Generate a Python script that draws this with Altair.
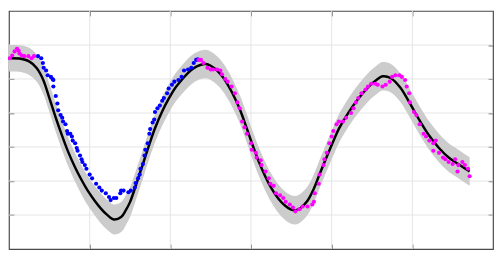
import altair as alt
import pandas as pd

# Posterior mean (black curve)
mean_x = [0.00, 0.13, 0.25, 0.34, 0.42, 0.49, 0.58, 0.66, 0.73, 0.82,
          0.90, 0.97, 1.06, 1.14, 1.21, 1.30, 1.39, 1.45, 1.50, 1.57,
          1.66, 1.74, 1.81, 1.90, 1.98, 2.05, 2.14, 2.22, 2.29, 2.38,
          2.44, 2.50, 2.58, 2.65, 2.72, 2.77, 2.86, 2.94, 3.01, 3.10,
          3.18, 3.25, 3.34, 3.42, 3.49, 3.55, 3.61, 3.70, 3.78, 3.85,
          3.94, 4.02, 4.09, 4.21, 4.33, 4.45, 4.57, 4.63, 4.73, 4.85,
          4.97, 5.09, 5.21, 5.33, 5.45, 5.57, 5.71]
mean_y = [2.11, 2.10, 2.02, 1.83, 1.50, 1.02, 0.36, -0.18, -0.62, -1.10,
          -1.47, -1.76, -2.07, -2.31, -2.48, -2.63, -2.56, -2.35, -2.12, -1.65,
          -1.00, -0.42, 0.05, 0.55, 0.92, 1.20, 1.47, 1.68, 1.82, 1.92,
          1.94, 1.89, 1.75, 1.56, 1.30, 1.08, 0.62, 0.10, -0.38, -0.95,
          -1.38, -1.70, -2.02, -2.22, -2.33, -2.36, -2.30, -2.08, -1.72, -1.30,
          -0.78, -0.33, 0.04, 0.52, 0.92, 1.25, 1.50, 1.58, 1.53, 1.25,
          0.78, 0.28, -0.17, -0.53, -0.81, -1.00, -1.22]
# Half-width of the confidence band (grey)
band_half = [0.39, 0.39, 0.40, 0.40, 0.41, 0.41, 0.42, 0.42, 0.42, 0.42,
             0.43, 0.43, 0.43, 0.44, 0.44, 0.44, 0.44, 0.44, 0.44, 0.43,
             0.43, 0.42, 0.42, 0.42, 0.42, 0.42, 0.42, 0.42, 0.42, 0.42,
             0.42, 0.42, 0.42, 0.42, 0.42, 0.42, 0.42, 0.42, 0.42, 0.42,
             0.42, 0.42, 0.42, 0.42, 0.42, 0.42, 0.42, 0.42, 0.42, 0.42,
             0.42, 0.42, 0.42, 0.42, 0.42, 0.42, 0.42, 0.42, 0.42, 0.42,
             0.42, 0.42, 0.42, 0.42, 0.42, 0.42, 0.42]

# Blue observations
blue_x = [0.36, 0.40, 0.42, 0.43, 0.46, 0.48, 0.52, 0.54, 0.55, 0.55,
          0.58, 0.60, 0.61, 0.64, 0.66, 0.67, 0.70, 0.72, 0.73, 0.76,
          0.78, 0.79, 0.82, 0.84, 0.85, 0.88, 0.90, 0.91, 0.94, 0.96,
          1.00, 1.03, 1.08, 1.12, 1.15, 1.20, 1.24, 1.26, 1.30, 1.33,
          1.38, 1.39, 1.42, 1.48, 1.51, 1.56, 1.57, 1.60, 1.62, 1.63,
          1.66, 1.68, 1.69, 1.72, 1.74, 1.75, 1.78, 1.80, 1.81, 1.84,
          1.87, 1.90, 1.92, 1.96, 1.98, 2.02, 2.05, 2.10, 2.14, 2.17,
          2.22, 2.26, 2.29, 2.32, 2.34]
blue_y = [2.17, 2.11, 1.97, 1.83, 1.75, 1.61, 1.56, 1.50, 1.47, 1.28,
          1.00, 0.78, 0.58, 0.44, 0.36, 0.25, 0.17, -0.03, -0.11, -0.11,
          -0.19, -0.31, -0.39, -0.53, -0.61, -0.75, -0.86, -0.94, -1.03, -1.14,
          -1.31, -1.42, -1.58, -1.69, -1.78, -1.86, -1.97, -2.06, -2.00, -2.00,
          -1.86, -1.78, -1.78, -1.83, -1.78, -1.69, -1.56, -1.42, -1.31, -1.14,
          -1.00, -0.75, -0.58, -0.39, -0.11, 0.03, 0.22, 0.31, 0.53, 0.64,
          0.72, 0.86, 0.94, 1.08, 1.22, 1.33, 1.42, 1.47, 1.56, 1.75,
          1.78, 1.83, 1.97, 2.06, 2.08]

# Magenta observations
mag_x = [0.01, 0.04, 0.07, 0.10, 0.12, 0.13, 0.16, 0.19, 0.24, 0.28, 0.31,
         2.35, 2.38, 2.41, 2.46, 2.50, 2.53, 2.58, 2.62, 2.64, 2.68,
         2.71, 2.76, 2.80, 2.83, 2.86, 2.89, 2.92, 2.95, 3.00, 3.01,
         3.06, 3.07, 3.12, 3.13, 3.18, 3.22, 3.24, 3.28, 3.31, 3.36,
         3.40, 3.43, 3.48, 3.52, 3.55, 3.60, 3.64, 3.70, 3.76, 3.78,
         3.79, 3.84, 3.85, 3.90, 3.91, 3.94, 3.97, 4.00, 4.02, 4.06,
         4.09, 4.14, 4.18, 4.24, 4.27, 4.30, 4.33, 4.37, 4.42, 4.45,
         4.49, 4.54, 4.57, 4.63, 4.67, 4.72, 4.75, 4.79, 4.84, 4.87,
         4.91, 4.93, 4.96, 4.97, 5.02, 5.05, 5.09, 5.14, 5.17, 5.21,
         5.26, 5.29, 5.26, 5.33, 5.38, 5.41, 5.45, 5.50, 5.53, 5.57,
         5.56, 5.62, 5.65, 5.69, 5.71]
mag_y = [2.11, 2.19, 2.31, 2.39, 2.33, 2.25, 2.19, 2.17, 2.17, 2.11, 2.17,
         2.06, 2.06, 1.97, 1.83, 1.78, 1.78, 1.78, 1.75, 1.64, 1.50,
         1.42, 1.28, 1.08, 0.81, 0.64, 0.25, 0.08, -0.11, -0.39, -0.58,
         -0.67, -0.81, -0.89, -1.03, -1.22, -1.42, -1.58, -1.64, -1.86, -1.92,
         -2.00, -2.11, -2.19, -2.28, -2.39, -2.33, -2.25, -2.25, -2.19, -2.11,
         -1.86, -1.58, -1.31, -1.03, -0.86, -0.67, -0.39, -0.19, -0.03, 0.17,
         0.25, 0.25, 0.36, 0.50, 0.64, 0.81, 0.94, 1.08, 1.19, 1.28,
         1.36, 1.36, 1.33, 1.28, 1.33, 1.42, 1.56, 1.61, 1.61, 1.56,
         1.47, 1.28, 1.08, 0.81, 0.53, 0.44, 0.17, -0.11, -0.19, -0.31,
         -0.39, -0.31, -0.61, -0.67, -0.81, -0.86, -0.94, -1.00, -0.86, -1.03,
         -1.22, -0.94, -1.03, -1.14, -1.36]

x_ticks = [1, 2, 3, 4, 5]
y_ticks = [-2.5, -1.5, -0.5, 0.5, 1.5, 2.5]
x_domain = [0, 6]
y_domain = [-3.5, 3.5]

fit = pd.DataFrame({
    "x": mean_x,
    "mean": mean_y,
    "lo": [m - h for m, h in zip(mean_y, band_half)],
    "hi": [m + h for m, h in zip(mean_y, band_half)],
})
pts = pd.DataFrame({
    "x": blue_x + mag_x,
    "y": blue_y + mag_y,
    "set": ["blue"] * len(blue_x) + ["magenta"] * len(mag_x),
})

xs = alt.Scale(domain=x_domain, nice=False, zero=False)
ys = alt.Scale(domain=y_domain, nice=False, zero=False)

FRAME = "#4a4a4a"
GRID = "#e4e4e4"
tick_axis = dict(labels=False, domain=False, grid=False, ticks=True,
                 tickSize=5, tickColor=FRAME, tickWidth=1, offset=-5, title=None)

vgrid = alt.Chart(pd.DataFrame({"x": x_ticks})).mark_rule(
    color=GRID, strokeWidth=1
).encode(
    x=alt.X("x:Q", scale=xs, axis=alt.Axis(orient="bottom", values=x_ticks, **tick_axis))
)
hgrid = alt.Chart(pd.DataFrame({"y": y_ticks})).mark_rule(
    color=GRID, strokeWidth=1
).encode(
    y=alt.Y("y:Q", scale=ys, axis=alt.Axis(orient="left", values=y_ticks, **tick_axis))
)
band = alt.Chart(fit).mark_area(color="#cccccc", opacity=1, interpolate="catmull-rom").encode(
    x=alt.X("x:Q", scale=xs, axis=alt.Axis(orient="top", values=x_ticks, **tick_axis)),
    y=alt.Y("lo:Q", scale=ys, axis=alt.Axis(orient="right", values=y_ticks, **tick_axis)),
    y2="hi:Q",
)
line = alt.Chart(fit).mark_line(color="black", strokeWidth=2.5, interpolate="catmull-rom").encode(
    x=alt.X("x:Q", scale=xs, axis=None),
    y=alt.Y("mean:Q", scale=ys, axis=None),
)
points = alt.Chart(pts).mark_circle(size=18, opacity=1).encode(
    x=alt.X("x:Q", scale=xs, axis=None),
    y=alt.Y("y:Q", scale=ys, axis=None),
    color=alt.Color("set:N", scale=alt.Scale(domain=["blue", "magenta"],
                                             range=["#0000ff", "#ff00ff"]), legend=None),
)

chart = alt.layer(vgrid, hgrid, band, line, points).properties(
    width=492, height=242,
    autosize=alt.AutoSizeParams(type="none"),
    padding={"left": 1, "top": 1, "right": 2, "bottom": 2},
    background="white",
).configure_view(stroke=FRAME, strokeWidth=1.2)

chart.save("out.html", embed_options={"renderer": "svg", "actions": False})
